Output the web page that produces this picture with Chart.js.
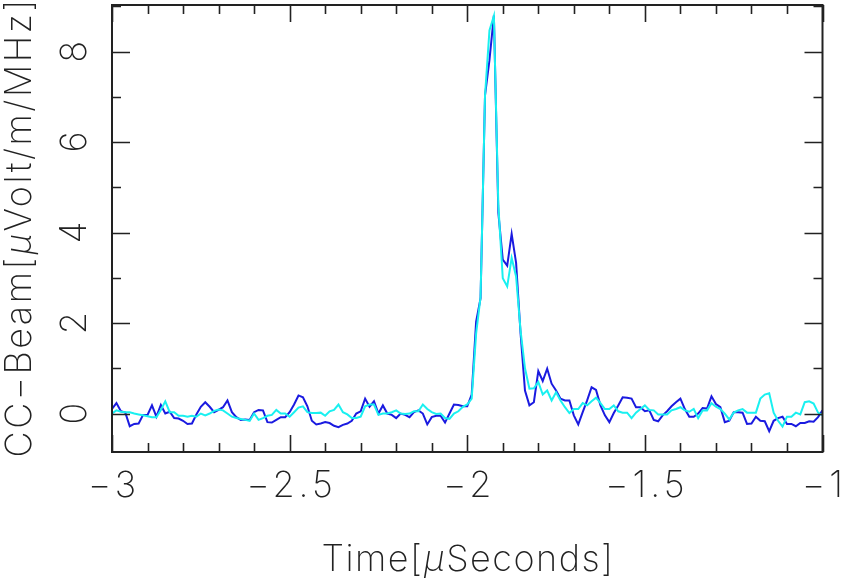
<!DOCTYPE html>
<html>
<head>
<meta charset="utf-8">
<script src="https://cdn.jsdelivr.net/npm/chart.js@4.4.1/dist/chart.umd.min.js"></script>
<style>
  html, body { margin: 0; padding: 0; background: #fff; }
  #wrap { width: 841px; height: 581px; }
</style>
</head>
<body>
<div id="wrap"><canvas id="grafico" width="841" height="581"></canvas></div>
<script>
// muestreo: 12.5 ns entre muestras, desde -3 us
const tiempoInicio = -3;
const pasoTiempo = 0.0125;

const hazAzul = [
  0.10, 0.23, 0.05, 0.02, -0.28, -0.23, -0.22, -0.03, -0.03, 0.18,
  -0.07, 0.19, 0.00, 0.04, -0.10, -0.11, -0.16, -0.23, -0.22, -0.02,
  0.15, 0.25, 0.15, 0.03, 0.08, 0.14, 0.29, 0.03, -0.08, -0.14,
  -0.13, -0.14, 0.03, 0.08, 0.07, -0.19, -0.20, -0.14, -0.08, -0.08,
  0.03, 0.20, 0.40, 0.36, 0.16, -0.16, -0.24, -0.22, -0.19, -0.21,
  -0.27, -0.30, -0.25, -0.22, -0.16, 0.00, 0.05, 0.33, 0.15, 0.27,
  0.00, 0.18, 0.00, -0.03, -0.10, 0.00, -0.03, -0.08, 0.03, 0.07,
  0.00, -0.24, -0.08, -0.05, -0.05, -0.20, 0.00, 0.20, 0.19, 0.16,
  0.16, 0.42, 2.03, 2.55, 7.03, 7.81, 8.80, 4.44, 3.40, 3.27,
  3.97, 3.33, 1.78, 0.51, 0.18, 0.25, 0.94, 0.72, 0.99, 0.66,
  0.51, 0.33, 0.29, 0.29, -0.04, -0.24, 0.03, 0.29, 0.58, 0.52,
  0.18, -0.04, -0.19, 0.01, 0.18, 0.36, 0.35, 0.33, 0.14, 0.14,
  0.05, 0.07, -0.14, -0.17, -0.04, 0.05, 0.16, 0.25, 0.33, 0.10,
  -0.07, -0.07, 0.00, 0.12, 0.11, 0.38, 0.21, 0.14, -0.19, -0.16,
  0.03, 0.03, 0.02, -0.23, -0.22, -0.07, -0.16, -0.17, -0.39, -0.16,
  -0.10, -0.07, -0.23, -0.23, -0.28, -0.21, -0.21, -0.17, -0.18, -0.08,
  0.07
];

const hazCian = [
  0.00, 0.07, 0.04, 0.03, 0.03, 0.00, -0.02, -0.04, -0.06, -0.08,
  -0.08, 0.08, 0.27, 0.03, 0.03, -0.05, -0.05, -0.07, -0.05, -0.07,
  0.00, -0.04, 0.00, 0.06, 0.09, 0.07, 0.00, -0.07, -0.10, -0.12,
  -0.14, -0.16, 0.00, -0.14, -0.10, -0.05, -0.03, 0.08, 0.00, 0.00,
  -0.07, 0.03, 0.13, 0.16, 0.03, 0.01, 0.01, 0.02, -0.05, 0.05,
  0.08, 0.20, 0.03, -0.02, -0.10, -0.10, -0.07, 0.16, 0.20, 0.20,
  -0.03, 0.00, 0.00, 0.03, 0.07, 0.00, -0.01, 0.00, 0.05, 0.05,
  0.20, 0.10, 0.03, -0.01, 0.00, -0.10, -0.12, 0.00, 0.05, 0.15,
  0.20, 0.33, 1.77, 2.58, 7.03, 8.47, 8.79, 4.60, 2.99, 2.81,
  3.44, 3.03, 1.84, 1.00, 0.55, 0.56, 0.70, 0.42, 0.51, 0.29,
  0.47, 0.29, 0.14, 0.01, 0.10, 0.10, 0.23, 0.18, 0.27, 0.35,
  0.23, 0.10, 0.10, 0.18, 0.05, 0.02, 0.02, -0.10, 0.02, 0.10,
  0.18, 0.08, 0.07, -0.02, -0.02, -0.02, 0.07, 0.10, 0.14, 0.07,
  0.04, 0.10, -0.10, 0.07, 0.07, 0.23, 0.15, 0.10, 0.00, -0.13,
  0.02, 0.07, 0.10, 0.02, 0.02, 0.02, 0.33, 0.42, 0.45, 0.02,
  -0.16, -0.29, -0.07, -0.07, 0.02, -0.02, 0.25, 0.27, 0.22, 0.02,
  -0.04
];

const xTicks = [-3, -2.5, -2, -1.5, -1];
const yTicks = [0, 2, 4, 6, 8];
const tituloX = ['Time[', 'μ', 'Seconds]'];
const tituloY = ['CC−Beam[', 'μ', 'Volt/m/MHz]'];

const fuente = '200 36px Inter, "DejaVu Sans", sans-serif';
const fuenteItalica = 'italic 200 36px Inter, "DejaVu Sans", sans-serif';
const colorMarco = '#222';

function aPuntos(valores) {
  return valores.map((v, i) => ({ x: tiempoInicio + i * pasoTiempo, y: v }));
}

function etiqueta(n) {
  return String(n).replace('-', '\u2212');
}

// dibuja un texto en partes (para la mu en italica), centrado en (0,0)
function textoPartes(ctx, partes, espacio) {
  ctx.letterSpacing = espacio + 'px';
  const fuentes = partes.map(p => p === 'μ' ? fuenteItalica : fuente);
  let total = 0;
  const anchos = partes.map((p, i) => { ctx.font = fuentes[i]; const w = ctx.measureText(p).width; total += w; return w; });
  let x = -(total - espacio) / 2;
  ctx.textAlign = 'left';
  ctx.textBaseline = 'middle';
  partes.forEach((p, i) => {
    ctx.font = fuentes[i];
    ctx.fillText(p, x, 0);
    x += anchos[i];
  });
  ctx.letterSpacing = '0px';
}

const marco = {
  id: 'marco',
  afterDatasetsDraw(chart) {
    const ctx = chart.ctx;
    const a = chart.chartArea;
    const sx = chart.scales.x;
    const sy = chart.scales.y;
    ctx.save();
    ctx.strokeStyle = colorMarco;
    ctx.lineWidth = 2;
    ctx.strokeRect(a.left, a.top, a.right - a.left, a.bottom - a.top);

    ctx.lineWidth = 1.6;
    ctx.beginPath();
    // ticks del eje x, hacia adentro, abajo y arriba
    for (let i = 0; i <= 20; i++) {
      const v = sx.min + i * 0.1;
      const px = Math.round(sx.getPixelForValue(v)) + 0.5;
      const mayor = i % 5 === 0;
      const largo = mayor ? 17 : 9;
      ctx.moveTo(px, a.bottom); ctx.lineTo(px, a.bottom - largo);
      ctx.moveTo(px, a.top); ctx.lineTo(px, a.top + largo);
    }
    // ticks del eje y
    for (let v = Math.ceil(sy.min); v <= sy.max; v++) {
      const py = Math.round(sy.getPixelForValue(v)) + 0.5;
      const mayor = v % 2 === 0;
      const largo = mayor ? 18 : 9;
      ctx.moveTo(a.left, py); ctx.lineTo(a.left + largo, py);
      ctx.moveTo(a.right, py); ctx.lineTo(a.right - largo, py);
    }
    ctx.stroke();

    ctx.fillStyle = colorMarco;
    xTicks.forEach(v => {
      ctx.save();
      ctx.translate(sx.getPixelForValue(v), a.bottom + 34);
      textoPartes(ctx, [etiqueta(v)], 4);
      ctx.restore();
    });
    yTicks.forEach(v => {
      ctx.save();
      ctx.translate(a.left - 37, sy.getPixelForValue(v));
      ctx.rotate(-Math.PI / 2);
      textoPartes(ctx, [etiqueta(v)], 0);
      ctx.restore();
    });

    ctx.save();
    ctx.translate((a.left + a.right) / 2, a.bottom + 108);
    textoPartes(ctx, tituloX, 1.5);
    ctx.restore();

    ctx.save();
    ctx.translate(a.left - 92, (a.top + a.bottom) / 2);
    ctx.rotate(-Math.PI / 2);
    textoPartes(ctx, tituloY, 2.5);
    ctx.restore();

    ctx.restore();
  }
};

new Chart(document.getElementById('grafico').getContext('2d'), {
  type: 'line',
  data: {
    datasets: [
      {
        label: 'haz cian',
        data: aPuntos(hazCian),
        borderColor: '#19f0f0',
        borderWidth: 2,
        pointRadius: 0,
        tension: 0,
        order: 0
      },
      {
        label: 'haz azul',
        data: aPuntos(hazAzul),
        borderColor: '#1a1ae0',
        borderWidth: 2,
        pointRadius: 0,
        tension: 0,
        order: 1
      }
    ]
  },
  options: {
    responsive: false,
    animation: false,
    devicePixelRatio: 1,
    layout: { padding: { left: 112, top: 5, right: 18.5, bottom: 129 } },
    plugins: { legend: { display: false }, tooltip: { enabled: false } },
    scales: {
      x: { type: 'linear', display: false, min: -3, max: -1 },
      y: { type: 'linear', display: false, min: -0.85, max: 9.03 }
    }
  },
  plugins: [marco]
});
</script>
</body>
</html>
